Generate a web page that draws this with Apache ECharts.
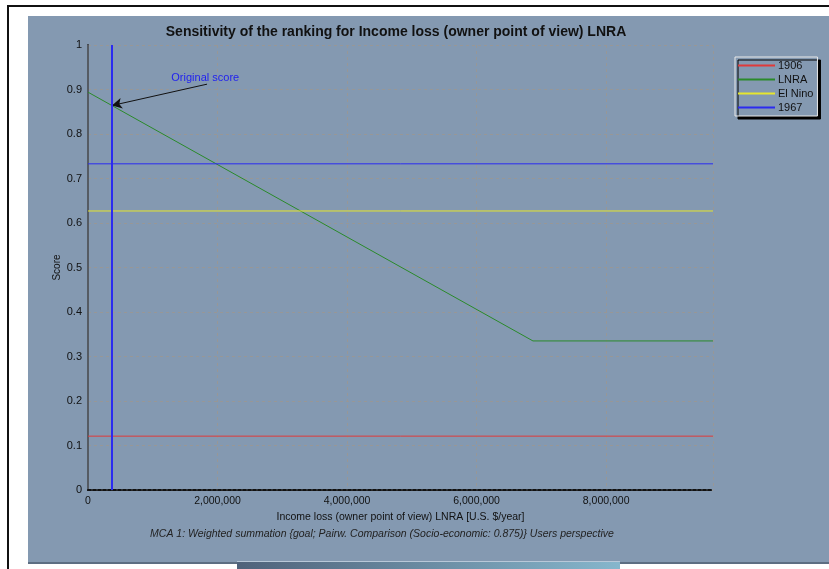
<!DOCTYPE html>
<html><head><meta charset="utf-8">
<script src="https://cdn.jsdelivr.net/npm/echarts@6/dist/echarts.min.js"></script>
<style>html,body{margin:0;padding:0;background:#fff}#c{width:829px;height:569px}</style>
</head><body><div id="c"></div>
<script>
const titleText = 'Sensitivity of the ranking for Income loss (owner point of view) LNRA';
const xName = 'Income loss (owner point of view) LNRA [U.S. $/year]';
const yName = 'Score';
const footer = 'MCA 1: Weighted summation {goal; Pairw. Comparison (Socio-economic: 0.875)} Users perspective';
const seriesNames = ['1906', 'LNRA', 'El Nino', '1967'];
const xMax = 9650000;
const series1906 = [[0, 0.121], [9650000, 0.121]];
const seriesLNRA = [[0, 0.894], [6870000, 0.335], [9650000, 0.335]];
const seriesElNino = [[0, 0.627], [9650000, 0.627]];
const series1967 = [[0, 0.733], [9650000, 0.733]];
const currentValue = 370000;
const annotationText = 'Original score';
const annotationFrom = [1838000, 0.912];
const annotationTo = [370000, 0.864];
const annotationLabelAt = [1810000, 0.926];

const FONT = '"Liberation Sans", Arial, sans-serif';
const colors = ['#e03a3a', '#2a8a2a', '#e6e62e', '#2b2bf0'];
const chart = echarts.init(document.getElementById('c'));
function fmt(v){ return v.toString().replace(/\B(?=(\d{3})+(?!\d))/g, ','); }
const datas = [series1906, seriesLNRA, seriesElNino, series1967];
const series = datas.map((d, i) => ({
  name: seriesNames[i], type: 'line', data: d, symbol: 'none', silent: true,
  lineStyle: { color: colors[i], width: 1 }, itemStyle: { color: colors[i] }, z: 3
}));
series[3].markLine = {
  silent: true, symbol: 'none', label: { show: false },
  lineStyle: { color: '#2b2bf0', width: 2, type: 'solid' },
  data: [{ xAxis: currentValue }]
};
series[1].markLine = {
  silent: true, label: { show: false }, symbolSize: [8, 10],
  lineStyle: { color: '#111', width: 1, type: 'solid' },
  data: [[{ coord: annotationFrom, symbol: 'none' }, { coord: annotationTo, symbol: 'arrow' }]]
};
series[1].markPoint = {
  silent: true, symbol: 'circle', symbolSize: 0,
  label: { show: true, formatter: annotationText, color: '#2222ee', fontSize: 11, fontFamily: FONT, position: 'inside' },
  data: [{ coord: annotationLabelAt }]
};
chart.setOption({
  backgroundColor: '#ffffff',
  animation: false,
  graphic: [
    { type: 'rect', shape: { x: 28, y: 16, width: 801, height: 547 }, style: { fill: '#8499b1' }, z: -10 },
    { type: 'rect', shape: { x: 28, y: 562, width: 801, height: 2 }, style: { fill: '#5d6e82' }, z: -9 },
    { type: 'rect', shape: { x: 237, y: 561, width: 383, height: 8 }, z: -8,
      style: { fill: new echarts.graphic.LinearGradient(0, 0, 1, 0, [{ offset: 0, color: '#4f627a' }, { offset: 1, color: '#86b6cc' }]) } },
    { type: 'rect', shape: { x: 237, y: 561, width: 383, height: 1 }, style: { fill: '#b8c8d8' }, z: -7 },
    { type: 'rect', shape: { x: 7, y: 5, width: 2, height: 564 }, style: { fill: '#111' }, z: -9 },
    { type: 'rect', shape: { x: 7, y: 5, width: 822, height: 2 }, style: { fill: '#111' }, z: -9 },
    { type: 'text', x: 396, y: 32, style: { text: titleText, fill: '#111', font: 'bold 14px ' + FONT, textAlign: 'center', textVerticalAlign: 'middle' } },
    { type: 'text', x: 382, y: 534, style: { text: footer, fill: '#222', font: 'italic 10.5px ' + FONT, textAlign: 'center', textVerticalAlign: 'middle' } }
  ],
  legend: {
    orient: 'vertical', left: 735, top: 57, data: seriesNames,
    icon: 'rect', itemWidth: 37, itemHeight: 2, itemGap: 1,
    padding: [2, 4, 2, 3],
    textStyle: { color: '#111', fontSize: 11, fontFamily: FONT, lineHeight: 13, padding: [0, 0, 0, -2] },
    backgroundColor: '#8499b1', borderColor: '#e8e8e8', borderWidth: 1,
    shadowColor: '#000', shadowOffsetX: 3, shadowOffsetY: 3, shadowBlur: 0,
    selectedMode: false
  },
  grid: { left: 88, right: 116, top: 45, bottom: 79, containLabel: false },
  xAxis: [{
    type: 'value', min: 0, max: xMax, interval: 2000000,
    name: xName, nameLocation: 'middle', nameGap: 22, nameMoveOverlap: false,
    nameTextStyle: { color: '#111', fontSize: 10.5, fontFamily: FONT },
    axisLine: { show: true, lineStyle: { color: '#111', width: 2, type: [3, 2] } },
    axisTick: { show: false },
    axisLabel: { color: '#111', fontSize: 10.5, fontFamily: FONT, margin: 6, formatter: fmt, showMaxLabel: false },
    splitLine: { show: true, lineStyle: { color: '#979797', type: [3, 3], width: 1 } }
  }, {
    type: 'value', min: 0, max: xMax, position: 'top',
    axisLine: { show: true, lineStyle: { color: '#111', width: 1, type: [3, 2] } },
    axisTick: { show: false }, axisLabel: { show: false }, splitLine: { show: false }
  }],
  yAxis: [{
    type: 'value', min: 0, max: 1, interval: 0.1,
    name: yName, nameLocation: 'middle', nameGap: 26, nameMoveOverlap: false,
    nameTextStyle: { color: '#111', fontSize: 10, fontFamily: FONT },
    axisLine: { show: true, lineStyle: { color: '#000', width: 2 } },
    axisTick: { show: false },
    axisLabel: { color: '#111', fontSize: 11, fontFamily: FONT, margin: 6 },
    splitLine: { show: true, lineStyle: { color: '#979797', type: [3, 3], width: 1 } }
  }, {
    type: 'value', min: 0, max: 1, position: 'right',
    axisLine: { show: true, lineStyle: { color: '#555b63', width: 2 } },
    axisTick: { show: false }, axisLabel: { show: false }, splitLine: { show: false }
  }],
  series: series
});
</script></body></html>
